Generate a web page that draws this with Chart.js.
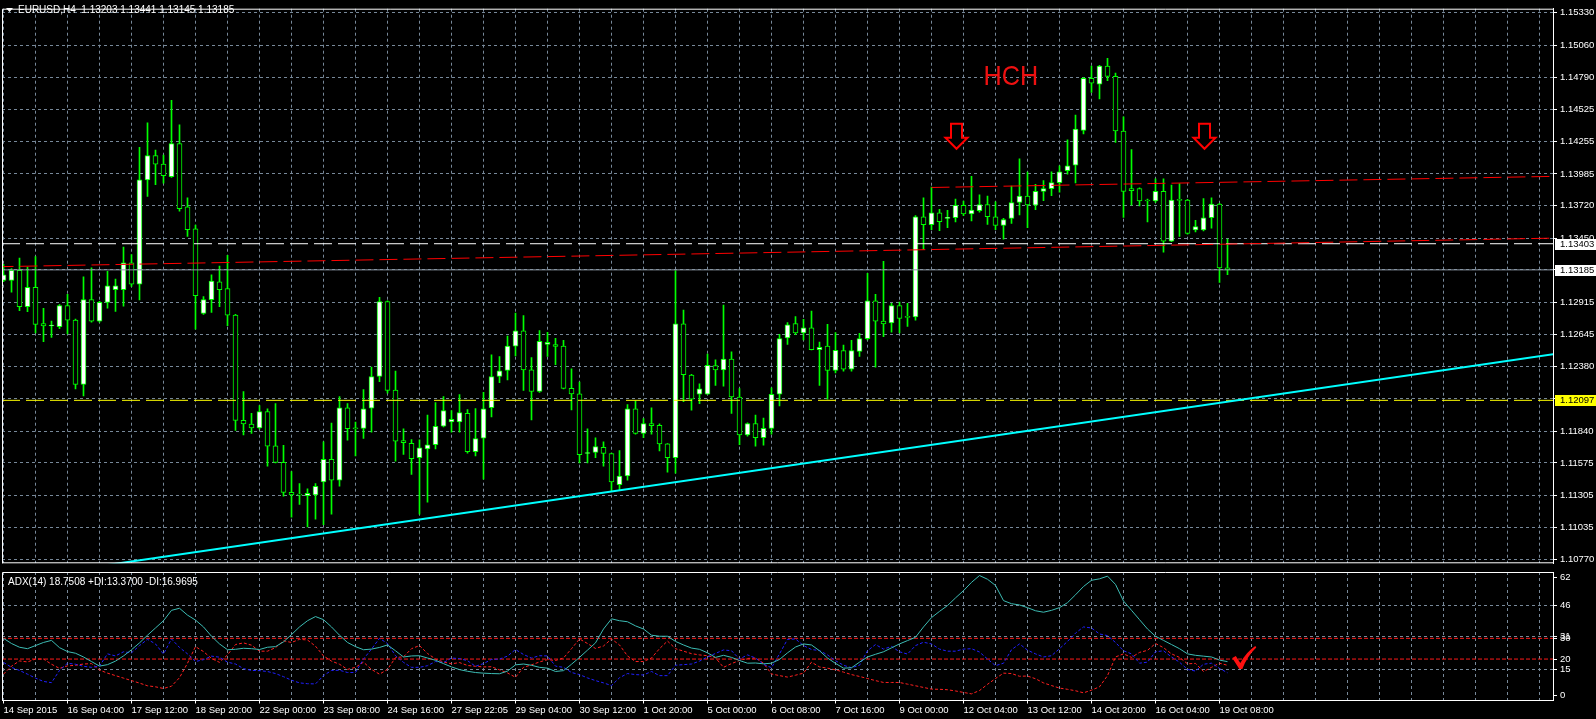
<!DOCTYPE html>
<html>
<head>
<meta charset="utf-8">
<title>EURUSD,H4</title>
<script src="https://cdn.jsdelivr.net/npm/chart.js@4.4.0/dist/chart.umd.min.js"></script>
<style>
  html, body { margin: 0; padding: 0; background: #000; overflow: hidden; }
  #priceChart { position: absolute; left: 0; top: 0; }
  #adxChart { position: absolute; left: 0; top: 572px; }
</style>
</head>
<body>
<canvas id="priceChart" width="1596" height="572"></canvas>
<canvas id="adxChart" width="1596" height="147"></canvas>
<script>
// EURUSD H4, first bar 14 Sep 2015 20:00, last bar 19 Oct 12:00 (still open)
const opens = [1.13098,1.13098,1.13182,1.12879,1.13040,1.12737,1.12717,1.12711,1.12888,1.12766,
  1.12230,1.12937,1.12757,1.12914,1.13019,1.13019,1.13243,1.13066,1.13936,1.14139,
  1.14067,1.13962,1.14238,1.13710,1.13527,1.12821,1.12937,1.13086,1.13028,1.12807,
  1.11930,1.11898,1.11866,1.12003,1.11718,1.11579,1.11329,1.11309,1.11303,1.11309,
  1.11417,1.11605,1.11431,1.12035,1.11863,1.11863,1.12032,1.12296,1.12920,1.12183,
  1.11762,1.11738,1.11619,1.11692,1.11727,1.11881,1.11918,1.11918,1.11988,1.11669,
  1.11782,1.12035,1.12296,1.12346,1.12549,1.12676,1.12351,1.12171,1.12563,1.12563,
  1.12549,1.12197,1.12151,1.11654,1.11663,1.11706,1.11654,1.11393,1.11466,1.12027,
  1.11822,1.11904,1.11889,1.11735,1.11619,1.12734,1.12308,1.12148,1.12148,1.12386,
  1.12351,1.12441,1.12125,1.11808,1.11904,1.11785,1.11863,1.12148,1.12618,1.12737,
  1.12659,1.12702,1.12520,1.12549,1.12346,1.12511,1.12357,1.12505,1.12612,1.12926,
  1.12757,1.12743,1.12888,1.12795,1.12792,1.13628,1.13562,1.13660,1.13614,1.13620,
  1.13724,1.13652,1.13678,1.13730,1.13628,1.13556,1.13614,1.13747,1.13800,1.13724,
  1.13840,1.13863,1.13913,1.14012,1.14058,1.14348,1.14783,1.14734,1.14885,1.14798,
  1.14343,1.13863,1.13863,1.13762,1.13759,1.13840,1.13425,1.13771,1.13768,1.13518,
  1.13518,1.13620,1.13733,1.13203];
const highs = [1.13231,1.13196,1.13283,1.13208,1.13295,1.12865,1.12757,1.12896,1.12981,1.12775,
  1.13127,1.13202,1.12923,1.13173,1.13109,1.13376,1.13312,1.14206,1.14412,1.14183,
  1.14142,1.14598,1.14395,1.13785,1.13559,1.12963,1.13144,1.13216,1.13306,1.12815,
  1.12169,1.11988,1.12053,1.12027,1.12070,1.11721,1.11503,1.11402,1.11358,1.11402,
  1.11750,1.11907,1.12128,1.12070,1.11916,1.12186,1.12374,1.12955,1.12926,1.12340,
  1.11860,1.11770,1.11767,1.11974,1.12079,1.12128,1.12012,1.12145,1.12020,1.12029,
  1.12163,1.12476,1.12462,1.12633,1.12824,1.12804,1.12453,1.12679,1.12665,1.12615,
  1.12598,1.12360,1.12250,1.11860,1.11785,1.11750,1.11657,1.11677,1.12061,1.12090,
  1.11944,1.12035,1.11901,1.11737,1.13179,1.12850,1.12314,1.12235,1.12482,1.12435,
  1.12891,1.12502,1.12195,1.11910,1.11974,1.11948,1.12201,1.12647,1.12746,1.12795,
  1.12772,1.12842,1.12583,1.12731,1.12662,1.12557,1.12598,1.12656,1.13156,1.12981,
  1.13257,1.12905,1.12917,1.12905,1.13637,1.13785,1.13875,1.13689,1.13681,1.13776,
  1.13759,1.13965,1.13811,1.13800,1.13753,1.13614,1.13884,1.14110,1.14000,1.13898,
  1.13930,1.14003,1.14052,1.14270,1.14476,1.14789,1.14885,1.14891,1.14949,1.14827,
  1.14461,1.14189,1.13869,1.13776,1.13945,1.13945,1.13892,1.13904,1.13774,1.13599,
  1.13779,1.13785,1.13739,1.13441];
const lows = [1.13086,1.12999,1.12844,1.12836,1.12659,1.12586,1.12621,1.12694,1.12650,1.12192,
  1.12134,1.12749,1.12749,1.12865,1.12839,1.12882,1.13048,1.12934,1.13797,1.13895,
  1.13907,1.13956,1.13675,1.13463,1.12691,1.12813,1.12830,1.12879,1.12720,1.11846,
  1.11808,1.11822,1.11857,1.11547,1.11576,1.11298,1.11122,1.11228,1.11042,1.11106,
  1.11060,1.11147,1.11382,1.11765,1.11634,1.11779,1.11831,1.12253,1.12157,1.11590,
  1.11645,1.11480,1.11147,1.11248,1.11692,1.11875,1.11831,1.11831,1.11657,1.11634,
  1.11440,1.11959,1.12244,1.12267,1.12467,1.12180,1.11933,1.12163,1.12464,1.12395,
  1.12192,1.12018,1.11576,1.11576,1.11619,1.11547,1.11338,1.11344,1.11431,1.11814,
  1.11785,1.11814,1.11675,1.11498,1.11489,1.12085,1.12014,1.12070,1.12146,1.12221,
  1.12215,1.11988,1.11727,1.11799,1.11715,1.11724,1.11814,1.12050,1.12563,1.12644,
  1.12601,1.12518,1.12221,1.12107,1.12325,1.12340,1.12340,1.12464,1.12601,1.12374,
  1.12627,1.12665,1.12659,1.12714,1.12766,1.13356,1.13521,1.13512,1.13536,1.13585,
  1.13637,1.13594,1.13666,1.13565,1.13521,1.13440,1.13573,1.13643,1.13536,1.13686,
  1.13762,1.13803,1.13832,1.13983,1.13910,1.14319,1.14665,1.14610,1.14763,1.14247,
  1.13623,1.13724,1.13718,1.13585,1.13747,1.13332,1.13420,1.13463,1.13483,1.13501,
  1.13510,1.13533,1.13080,1.13145];
const closes = [1.13144,1.13182,1.12879,1.13040,1.12731,1.12717,1.12720,1.12888,1.12766,1.12230,
  1.12937,1.12757,1.12914,1.13051,1.13051,1.13243,1.13066,1.13936,1.14139,1.14067,
  1.13971,1.14238,1.13695,1.13521,1.12969,1.12937,1.13092,1.13019,1.12807,1.11930,
  1.11901,1.11866,1.12003,1.11715,1.11579,1.11329,1.11309,1.11306,1.11321,1.11379,
  1.11605,1.11431,1.12035,1.11860,1.11860,1.12027,1.12296,1.12920,1.12180,1.11756,
  1.11744,1.11611,1.11701,1.11727,1.11881,1.12012,1.11939,1.11994,1.11669,1.11779,
  1.12027,1.12296,1.12343,1.12549,1.12676,1.12351,1.12171,1.12589,1.12581,1.12546,
  1.12197,1.12151,1.11643,1.11657,1.11712,1.11654,1.11417,1.11466,1.12027,1.11822,
  1.11904,1.11886,1.11733,1.11619,1.12734,1.12311,1.12107,1.12192,1.12389,1.12351,
  1.12441,1.12125,1.11808,1.11904,1.11785,1.11863,1.12148,1.12612,1.12726,1.12659,
  1.12702,1.12520,1.12540,1.12346,1.12514,1.12357,1.12511,1.12612,1.12926,1.12757,
  1.12734,1.12888,1.12781,1.12789,1.13628,1.13562,1.13660,1.13588,1.13620,1.13724,
  1.13652,1.13684,1.13730,1.13628,1.13556,1.13605,1.13747,1.13800,1.13727,1.13840,
  1.13863,1.13913,1.14003,1.14052,1.14360,1.14783,1.14743,1.14885,1.14798,1.14343,
  1.13840,1.13846,1.13759,1.13759,1.13840,1.13425,1.13768,1.13765,1.13489,1.13547,
  1.13620,1.13733,1.13202,1.13185];

// one time label every 8 bars
const timeLabels = ['14 Sep 2015','16 Sep 04:00','17 Sep 12:00','18 Sep 20:00','22 Sep 00:00',
  '23 Sep 08:00','24 Sep 16:00','27 Sep 22:05','29 Sep 04:00','30 Sep 12:00','1 Oct 20:00',
  '5 Oct 00:00','6 Oct 08:00','7 Oct 16:00','9 Oct 00:00','12 Oct 04:00','13 Oct 12:00',
  '14 Oct 20:00','16 Oct 04:00','19 Oct 08:00'];
const priceTicks = [1.15330,1.15060,1.14790,1.14525,1.14255,1.13985,1.13720,1.13450,1.13185,
  1.12915,1.12645,1.12380,1.12110,1.11840,1.11575,1.11305,1.11035,1.10770];

// ADX(14) window
const adxMain = [30.0,27.5,25.7,25.0,26.5,28.0,29.0,25.5,23.6,22.8,
  21.0,18.8,16.6,17.3,19.0,21.5,24.5,27.8,31.5,35.0,
  38.5,43.5,44.5,41.2,38.8,35.5,31.0,27.3,24.5,24.7,
  25.2,25.0,24.6,25.7,26.0,28.3,31.8,35.5,38.5,40.5,
  39.0,35.5,31.5,28.0,26.0,24.5,24.8,25.6,26.8,24.0,
  21.0,21.5,21.6,20.5,19.4,17.8,16.2,14.9,14.1,13.5,
  13.2,13.0,12.9,14.2,17.2,17.6,17.0,16.0,15.6,14.0,
  14.4,17.5,20.8,24.3,27.8,34.5,39.4,38.5,38.0,36.0,
  34.5,31.5,31.0,31.0,28.5,26.8,25.3,24.7,23.0,20.8,
  21.8,20.8,19.3,18.0,18.1,17.7,18.0,19.8,23.0,25.8,
  27.3,26.8,24.0,20.5,17.9,15.6,15.8,18.5,21.0,22.3,
  23.5,25.4,27.3,28.9,30.5,35.5,40.0,43.0,45.8,49.5,
  53.0,57.0,60.3,58.5,55.5,48.2,46.7,46.1,44.8,43.3,
  42.6,43.5,44.8,47.2,51.0,55.0,58.0,58.7,60.0,56.0,
  48.0,43.5,39.0,34.5,31.0,29.0,27.0,25.0,22.5,21.8,
  21.4,21.0,19.5,18.75];
const plusDI = [18.4,16.0,14.5,12.7,10.8,9.2,8.6,14.5,18.0,17.5,
  16.5,16.0,16.6,22.5,21.5,23.5,23.0,26.5,29.5,27.3,
  22.4,29.7,25.6,22.5,18.8,19.7,21.4,20.9,18.5,17.6,
  15.4,14.5,14.4,14.0,13.0,11.5,9.8,8.5,8.1,8.0,
  12.0,14.5,14.6,13.5,13.5,20.0,24.8,30.0,27.5,21.6,
  18.4,16.0,16.0,16.8,18.8,18.3,20.5,20.2,19.2,16.5,
  17.8,19.8,20.0,21.4,24.6,22.2,20.5,21.6,21.5,16.6,
  16.0,13.5,12.5,10.9,9.6,8.5,7.2,11.0,13.0,12.5,
  12.3,14.0,12.0,12.0,17.0,17.3,17.6,19.0,21.0,22.7,
  24.4,24.0,20.0,22.0,20.5,17.5,15.8,22.5,29.5,29.7,
  26.5,24.6,24.1,22.0,19.2,17.0,15.8,17.0,24.0,27.0,
  24.8,26.1,23.5,22.4,26.5,28.1,27.3,24.8,23.8,23.8,
  24.8,25.0,23.4,20.0,16.8,18.0,24.5,27.3,24.3,22.5,
  21.0,21.6,25.0,28.5,32.5,35.5,35.0,32.1,31.3,28.0,
  24.0,22.5,18.0,18.5,23.5,24.0,21.0,18.5,15.0,14.2,
  17.5,18.0,15.5,13.37];
const minusDI = [12.7,16.6,19.1,18.6,20.0,20.0,17.5,15.5,16.7,17.0,
  17.6,17.8,14.7,13.2,12.0,10.8,9.6,8.4,7.1,6.6,
  5.8,6.9,11.0,18.0,26.0,23.6,20.3,18.4,22.0,27.0,
  27.8,26.7,23.8,23.8,25.5,28.8,28.0,29.5,29.2,26.2,
  21.5,19.0,17.5,15.0,16.0,18.5,15.0,12.7,15.0,20.7,
  21.1,25.0,26.5,22.7,20.0,18.6,17.7,18.3,16.9,16.5,
  16.2,16.3,14.8,13.3,11.2,16.0,17.2,18.6,19.7,19.3,
  20.5,25.0,29.7,27.5,25.1,26.3,29.7,26.8,21.5,18.8,
  18.8,20.5,25.0,28.7,25.0,23.8,22.6,22.0,21.6,20.6,
  16.0,17.8,19.3,20.3,20.5,18.0,12.8,12.0,11.3,12.2,
  13.2,18.5,16.2,15.6,14.8,13.7,12.5,11.6,10.6,9.6,
  8.7,8.7,8.7,7.9,7.1,6.3,5.5,5.4,5.2,4.6,
  3.9,3.2,4.8,7.8,10.6,13.2,13.0,11.7,11.8,10.5,
  8.5,7.2,6.0,5.4,4.7,3.7,5.0,6.6,12.0,21.0,
  22.5,20.8,23.2,24.2,27.5,25.5,22.5,20.8,17.7,17.9,
  14.0,16.0,18.0,16.97];
const adxGridValues = [0, 15, 31, 46];
const adxAxisLabels = [62, 46, 31, 30, 20, 15, 0];
const adxLevels = [20, 30];

// objects drawn on the chart
const supportBars = [10, 194];
const supportPrices = [1.10695, 1.12484];
const channelTopBars = [116, 194];
const channelTopPrices = [1.13872, 1.13965];
const channelLowBars = [-1, 194];
const channelLowPrices = [1.13211, 1.13450];
const levelWhite = 1.13403;
const levelYellow = 1.12097;
const bidPrice = 1.13185;
const arrowBars = [119, 150];
const arrowPrice = 1.14403;
const patternBar = 122.5;
const patternPrice = 1.14729;
const checkBar = 154.6;
const checkValue = 15.2;

const titleText = 'EURUSD,H4  1.13203 1.13441 1.13145 1.13185';
const adxTitle = 'ADX(14) 18.7508 +DI:13.3700 -DI:16.9695';

// view: 8 px per bar, chart shifted to the left
const xMin = -0.1875, xMax = 193.6875;
const gridColor = '#778899';
const candleGreen = '#00ff00';

Chart.defaults.font.family = 'Arial, "Liberation Sans", sans-serif';
Chart.defaults.font.size = 9.5;
Chart.defaults.color = '#ffffff';
Chart.defaults.animation = false;

const bars = opens.map((_, i) => i);

function gridEvery4(scale) {
  const t = [];
  for (let v = 0; v <= xMax; v += 4) t.push({ value: v });
  scale.ticks = t;
}

function labelFor(v) {
  return (v % 8 === 0 && v / 8 < timeLabels.length) ? timeLabels[v / 8] : '';
}

function lineSet(xs, ys, color, dash, width, order) {
  return {
    type: 'line',
    data: xs.map((x, k) => ({ x: x, y: ys[k] })),
    borderColor: color,
    borderWidth: width || 1,
    borderDash: dash || [],
    pointRadius: 0,
    fill: false,
    order: order
  };
}

// white frame like the terminal window
function drawFrame(chart, withBottom) {
  const a = chart.chartArea, ctx = chart.ctx;
  ctx.save();
  ctx.strokeStyle = '#ffffff';
  ctx.lineWidth = 1;
  ctx.beginPath();
  ctx.moveTo(a.left + 0.5, a.bottom);
  ctx.lineTo(a.left + 0.5, a.top + 0.5);
  ctx.lineTo(a.right, a.top + 0.5);
  if (withBottom) {
    ctx.moveTo(a.left, a.bottom - 0.5);
    ctx.lineTo(a.right, a.bottom - 0.5);
  }
  ctx.stroke();
  ctx.restore();
}

const priceMarks = {
  id: 'priceMarks',
  afterDraw(chart) {
    const ctx = chart.ctx, xs = chart.scales.x, ys = chart.scales.y, a = chart.chartArea;
    drawFrame(chart, true);
    ctx.save();

    // symbol header
    ctx.fillStyle = '#ffffff';
    ctx.beginPath();
    ctx.moveTo(6, 8); ctx.lineTo(13, 8); ctx.lineTo(9.5, 12); ctx.closePath();
    ctx.fill();
    ctx.font = '10px Arial, "Liberation Sans", sans-serif';
    ctx.textBaseline = 'middle';
    ctx.textAlign = 'left';
    ctx.fillText(titleText, 18, 10.5);

    // HCH label
    ctx.save();
    ctx.fillStyle = '#ee1111';
    ctx.font = '28px Arial, "Liberation Sans", sans-serif';
    ctx.textBaseline = 'alphabetic';
    const hx = xs.getPixelForValue(patternBar), hy = ys.getPixelForValue(patternPrice);
    ctx.translate(hx, hy);
    ctx.scale(0.9, 1);
    ctx.fillText('HCH', 0, 0);
    ctx.restore();

    // hollow down arrows
    ctx.strokeStyle = '#ff0000';
    ctx.fillStyle = '#000000';
    ctx.lineWidth = 2;
    arrowBars.forEach(b => {
      const cx = Math.round(xs.getPixelForValue(b)) + 0.5;
      const ty = ys.getPixelForValue(arrowPrice);
      ctx.beginPath();
      ctx.moveTo(cx - 5.5, ty);
      ctx.lineTo(cx + 5.5, ty);
      ctx.lineTo(cx + 5.5, ty + 14);
      ctx.lineTo(cx + 11, ty + 14);
      ctx.lineTo(cx, ty + 25);
      ctx.lineTo(cx - 11, ty + 14);
      ctx.lineTo(cx - 5.5, ty + 14);
      ctx.closePath();
      ctx.fill();
      ctx.stroke();
    });

    // price boxes on the axis
    ctx.font = '9.5px Arial, "Liberation Sans", sans-serif';
    ctx.textBaseline = 'middle';
    [[levelWhite, '#ffffff'], [bidPrice, '#ffffff'], [levelYellow, '#ffff00']].forEach(([p, bg]) => {
      const y = ys.getPixelForValue(p);
      ctx.fillStyle = bg;
      ctx.fillRect(a.right + 2, Math.round(y) - 5, 43, 11);
      ctx.fillStyle = '#000000';
      ctx.fillText(p.toFixed(5), a.right + 7, Math.round(y) + 0.5);
    });
    ctx.restore();
  }
};

new Chart(document.getElementById('priceChart'), {
  type: 'bar',
  data: {
    datasets: [
      {
        label: 'wick',
        data: bars.map(i => ({ x: i, y: [lows[i], highs[i]] })),
        backgroundColor: candleGreen,
        barThickness: 1,
        grouped: false,
        order: 10
      },
      {
        label: 'body',
        data: bars.map(i => ({ x: i, y: [opens[i], closes[i]] })),
        backgroundColor: bars.map(i => closes[i] > opens[i] ? '#ffffff' : '#000000'),
        borderColor: candleGreen,
        borderWidth: 1,
        borderSkipped: false,
        barThickness: 5,
        minBarLength: 1,
        grouped: false,
        order: 9
      },
      lineSet([xMin, xMax], [bidPrice, bidPrice], '#8d99a6', [], 1, 5),
      lineSet([xMin, xMax], [levelWhite, levelWhite], '#ffffff', [18, 6], 1, 4),
      lineSet([xMin, xMax], [levelYellow, levelYellow], '#ffff00', [18, 6], 1, 4),
      lineSet(channelLowBars, channelLowPrices, '#ff0000', [18, 6], 1, 3),
      lineSet(channelTopBars, channelTopPrices, '#ff0000', [18, 6], 1, 3),
      lineSet(supportBars, supportPrices, '#00ffff', [], 2, 2)
    ]
  },
  options: {
    responsive: false,
    devicePixelRatio: 1,
    layout: { padding: { left: 2, top: 2, right: 0, bottom: 1 } },
    plugins: { legend: { display: false }, tooltip: { enabled: false } },
    scales: {
      x: {
        type: 'linear', min: xMin, max: xMax, offset: false,
        afterBuildTicks: gridEvery4,
        afterFit: s => { s.height = 0; },
        ticks: { display: false },
        grid: { color: gridColor, offset: false, drawTicks: false },
        border: { display: false, dash: [3, 3] }
      },
      y: {
        type: 'linear', position: 'right', min: 1.10738, max: 1.15363,
        afterBuildTicks: s => { s.ticks = priceTicks.map(v => ({ value: v })); },
        afterFit: s => { s.width = 43; },
        ticks: { color: '#ffffff', padding: 3, autoSkip: false, callback: v => v.toFixed(5) },
        grid: { color: gridColor, tickColor: '#ffffff', tickLength: 4 },
        border: { display: true, color: '#ffffff', dash: [3, 3] }
      }
    }
  },
  plugins: [priceMarks]
});

const adxMarks = {
  id: 'adxMarks',
  afterDraw(chart) {
    const ctx = chart.ctx, xs = chart.scales.x, ys = chart.scales.y, a = chart.chartArea;
    drawFrame(chart, false);
    ctx.save();
    ctx.fillStyle = '#ffffff';
    ctx.font = '10px Arial, "Liberation Sans", sans-serif';
    ctx.textBaseline = 'middle';
    ctx.fillText(adxTitle, 8, 10.5);

    // axis values, kept inside the window like the terminal does
    ctx.font = '9.5px Arial, "Liberation Sans", sans-serif';
    ctx.strokeStyle = '#ffffff';
    ctx.lineWidth = 1;
    adxAxisLabels.forEach(v => {
      let y = ys.getPixelForValue(v);
      y = Math.round(Math.min(Math.max(y, a.top + 4.5), a.bottom - 6));
      ctx.beginPath();
      ctx.moveTo(a.right, y + 0.5);
      ctx.lineTo(a.right + 4, y + 0.5);
      ctx.stroke();
      ctx.fillText(String(v), a.right + 7, y + 0.5);
    });

    // red check mark
    const cx = xs.getPixelForValue(checkBar), cy = ys.getPixelForValue(checkValue);
    ctx.fillStyle = '#ff1010';
    ctx.beginPath();
    ctx.moveTo(cx - 8, cy - 11);
    ctx.lineTo(cx - 4.5, cy - 13);
    ctx.lineTo(cx, cy - 6);
    ctx.quadraticCurveTo(cx + 6, cy - 17, cx + 15, cy - 23);
    ctx.lineTo(cx + 16, cy - 21.5);
    ctx.quadraticCurveTo(cx + 7, cy - 13, cx + 2, cy);
    ctx.lineTo(cx - 1, cy);
    ctx.closePath();
    ctx.fill();
    ctx.restore();
  }
};

new Chart(document.getElementById('adxChart'), {
  type: 'line',
  data: {
    datasets: [
      lineSet([xMin, xMax], [adxLevels[1], adxLevels[1]], '#ff1a1a', [4, 2], 1, 5),
      lineSet([xMin, xMax], [adxLevels[0], adxLevels[0]], '#ff1a1a', [4, 2], 1, 5),
      {
        label: '-DI',
        data: bars.map(i => ({ x: i, y: minusDI[i] })),
        borderColor: '#ff2020', borderWidth: 1, borderDash: [3, 2],
        pointRadius: 0, fill: false, order: 3
      },
      {
        label: '+DI',
        data: bars.map(i => ({ x: i, y: plusDI[i] })),
        borderColor: '#2020ff', borderWidth: 1, borderDash: [3, 2],
        pointRadius: 0, fill: false, order: 2
      },
      {
        label: 'ADX',
        data: bars.map(i => ({ x: i, y: adxMain[i] })),
        borderColor: '#3cbcb4', borderWidth: 1,
        pointRadius: 0, fill: false, order: 1
      }
    ]
  },
  options: {
    responsive: false,
    devicePixelRatio: 1,
    layout: { padding: { left: 2, top: 0, right: 0, bottom: 0 } },
    plugins: { legend: { display: false }, tooltip: { enabled: false } },
    scales: {
      x: {
        type: 'linear', min: xMin, max: xMax, offset: false,
        afterBuildTicks: gridEvery4,
        afterFit: s => { s.height = 18.5; },
        ticks: {
          color: '#ffffff', align: 'start', autoSkip: false, maxRotation: 0, padding: 1,
          callback: v => labelFor(v)
        },
        grid: {
          color: gridColor, tickLength: 3,
          tickColor: c => (c.tick && labelFor(c.tick.value)) ? '#ffffff' : 'rgba(0,0,0,0)'
        },
        border: { display: true, color: '#ffffff', dash: [3, 3] }
      },
      y: {
        type: 'linear', position: 'right', min: 0, max: 62,
        afterBuildTicks: s => { s.ticks = adxGridValues.map(v => ({ value: v })); },
        afterFit: s => { s.width = 43; },
        ticks: { display: false },
        grid: { color: gridColor, drawTicks: false },
        border: { display: true, color: '#ffffff', dash: [3, 3] }
      }
    }
  },
  plugins: [adxMarks]
});
</script>
</body>
</html>
